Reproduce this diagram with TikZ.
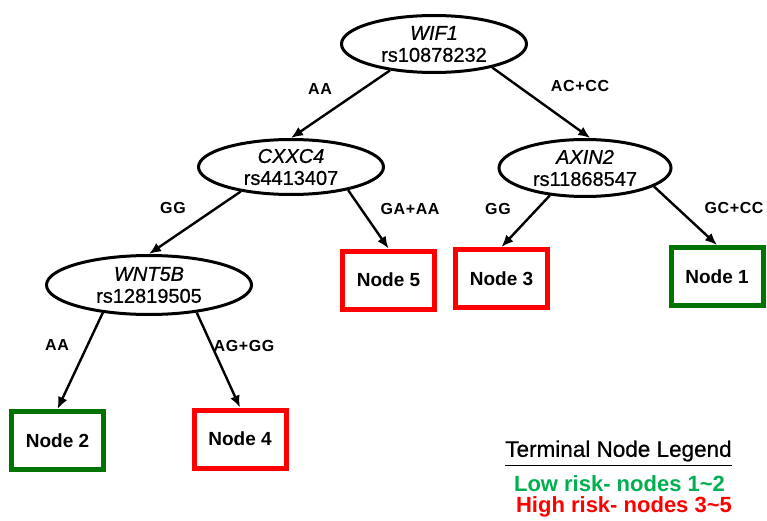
\documentclass[tikz,border=0pt]{standalone}
\usepackage{fontspec}
\setmainfont{Liberation Sans}
\newfontfamily\medfont[FakeBold=0.7]{Liberation Sans}
\usetikzlibrary{shapes.geometric,arrows.meta}
\definecolor{boxred}{RGB}{255,0,0}
\definecolor{boxgreen}{RGB}{0,115,0}
\definecolor{lowgreen}{RGB}{0,176,80}
\begin{document}
\begin{tikzpicture}[x=1pt,y=-1pt,
  gene/.style={ellipse,draw,line width=3pt,inner sep=0pt,align=center,font=\medfont\fontsize{20}{22}\selectfont},
  term/.style={rectangle,draw,line width=5pt,minimum width=92pt,minimum height=58pt,inner sep=0pt,font=\bfseries\fontsize{19}{22}\selectfont},
  conn/.style={line width=2.4pt,-{Latex[length=12pt,width=10pt]}},
  lbl/.style={inner sep=0pt,font=\bfseries\fontsize{16}{18}\selectfont\addfontfeature{LetterSpace=4}}]
\useasboundingbox (0,0) rectangle (767,521);
\fill[white] (0,0) rectangle (767,521);
% gene nodes
\node[gene,minimum width=185pt,minimum height=57pt] (wif) at (434,44) {\textit{WIF1}\\rs10878232};
\node[gene,minimum width=185pt,minimum height=55pt] (cx) at (291,167) {\textit{CXXC4}\\rs4413407};
\node[gene,minimum width=172pt,minimum height=57pt] (ax) at (585,168) {\textit{AXIN2}\\rs11868547};
\node[gene,minimum width=205pt,minimum height=59pt] (wn) at (149,285) {\textit{WNT5B}\\rs12819505};
% terminal nodes
\node[term,draw=boxred] (n5) at (388.5,280) {Node 5};
\node[term,draw=boxred] (n3) at (501.5,278.5) {Node 3};
\node[term,draw=boxgreen] (n1) at (717,276.5) {Node 1};
\node[term,draw=boxgreen] (n2) at (57.5,440.5) {Node 2};
\node[term,draw=boxred] (n4) at (240,439) {Node 4};
% connectors
\draw[conn] (wif.211) -- (cx.north);
\draw[conn] (wif.338) -- (ax.80);
\draw[conn] (cx.206) -- (wn.north);
\draw[conn] (cx.338) -- (n5.north);
\draw[conn] (ax.218) -- (n3.north);
\draw[conn] (ax.345) -- (n1.north);
\draw[conn] (wn.211) -- (n2.north);
\draw[conn] (wn.330) -- (n4.north);
% edge labels
\node[lbl] (l1) at (320,89) {AA};
\node[lbl] (l2) at (580,86) {AC+CC};
\node[lbl] (l3) at (173,208) {GG};
\node[lbl] (l4) at (410,209) {GA+AA};
\node[lbl] (l5) at (498,209) {GG};
\node[lbl] (l6) at (734,208) {GC+CC};
\node[lbl] (l7) at (57,345) {AA};
\node[lbl] (l8) at (244,346) {AG+GG};
% legend
\node[inner sep=0pt,font=\medfont\fontsize{22.5}{26}\selectfont] (lg) at (618.5,451) {Terminal Node Legend};
\draw[line width=1.6pt] ([yshift=-4pt]lg.south west) -- ([yshift=-4pt]lg.south east);
\node[inner sep=0pt,text=lowgreen,font=\bfseries\fontsize{22}{26}\selectfont] (lo) at (619.5,484) {Low risk- nodes 1\textasciitilde 2};
\node[inner sep=0pt,text=boxred,font=\bfseries\fontsize{22}{26}\selectfont] (hi) at (624,507) {High risk- nodes 3\textasciitilde 5};
\end{tikzpicture}
\end{document}
